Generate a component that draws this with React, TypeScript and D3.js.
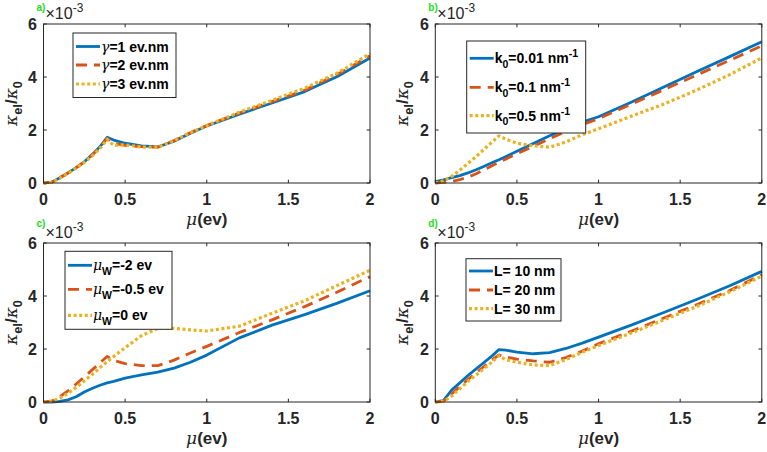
import { useEffect, useRef } from "react";
import * as d3 from "d3";

// chemical potential grid (ev), shared by every curve
const mu = [0, 0.05, 0.1, 0.15, 0.2, 0.25, 0.3, 0.35, 0.39, 0.43, 0.5, 0.6, 0.7, 0.8, 0.9, 1.0, 1.2, 1.4, 1.6, 1.8, 2.0];

// kappa_el / kappa_0, in units of 1e-3
const gamma1 = [0, 0.03, 0.2, 0.38, 0.58, 0.8, 1.08, 1.4, 1.72, 1.62, 1.5, 1.4, 1.36, 1.58, 1.88, 2.15, 2.6, 3.02, 3.45, 4.02, 4.72];
const gamma2 = [0, 0.03, 0.2, 0.38, 0.58, 0.8, 1.07, 1.38, 1.68, 1.5, 1.42, 1.37, 1.35, 1.6, 1.9, 2.17, 2.64, 3.07, 3.5, 4.1, 4.8];
const gamma3 = [0, 0.02, 0.18, 0.36, 0.56, 0.78, 1.03, 1.33, 1.65, 1.42, 1.44, 1.36, 1.35, 1.6, 1.9, 2.17, 2.67, 3.12, 3.58, 4.15, 4.88];

const k001 = [0.05, 0.12, 0.2, 0.28, 0.38, 0.5, 0.63, 0.77, 0.88, 0.99, 1.2, 1.49, 1.78, 2.05, 2.3, 2.5, 3.05, 3.62, 4.2, 4.76, 5.33];
const k01 = [0, 0.02, 0.06, 0.13, 0.22, 0.35, 0.5, 0.66, 0.78, 0.9, 1.1, 1.38, 1.67, 1.94, 2.2, 2.43, 2.97, 3.52, 4.07, 4.62, 5.18];
const k05 = [0, 0.08, 0.25, 0.48, 0.74, 1.0, 1.28, 1.56, 1.78, 1.66, 1.5, 1.4, 1.35, 1.55, 1.82, 2.05, 2.52, 2.98, 3.5, 4.08, 4.72];

const muWm2 = [0, 0, 0.02, 0.08, 0.2, 0.38, 0.52, 0.64, 0.72, 0.78, 0.9, 1.02, 1.13, 1.28, 1.5, 1.77, 2.42, 2.9, 3.3, 3.73, 4.2];
const muWm05 = [0, 0.03, 0.2, 0.42, 0.68, 0.95, 1.22, 1.5, 1.72, 1.57, 1.45, 1.37, 1.37, 1.58, 1.85, 2.1, 2.62, 3.1, 3.6, 4.15, 4.73];
const muW0 = [0, 0.03, 0.15, 0.33, 0.55, 0.8, 1.05, 1.32, 1.52, 1.72, 2.05, 2.5, 2.78, 2.78, 2.72, 2.68, 2.86, 3.35, 3.82, 4.4, 4.97];

const L10 = [0, 0.05, 0.45, 0.72, 1.0, 1.25, 1.5, 1.75, 1.98, 1.96, 1.88, 1.82, 1.86, 2.02, 2.22, 2.45, 2.9, 3.38, 3.87, 4.38, 4.93];
const L20 = [0, 0.03, 0.3, 0.58, 0.85, 1.1, 1.35, 1.6, 1.78, 1.7, 1.62, 1.55, 1.5, 1.68, 1.92, 2.2, 2.67, 3.17, 3.67, 4.2, 4.8];
const L30 = [0, 0.02, 0.22, 0.5, 0.78, 1.02, 1.27, 1.52, 1.75, 1.6, 1.5, 1.4, 1.37, 1.6, 1.88, 2.13, 2.6, 3.1, 3.6, 4.15, 4.75];

const xTicks = [0, 0.5, 1, 1.5, 2];
const yTicks = [0, 2, 4, 6];

const labelsA = ["\\gamma=1 ev.nm", "\\gamma=2 ev.nm", "\\gamma=3 ev.nm"];
const labelsB = ["k_0=0.01 nm^{-1}", "k_0=0.1 nm^{-1}", "k_0=0.5 nm^{-1}"];
const labelsC = ["\\mu_W=-2 ev", "\\mu_W=-0.5 ev", "\\mu_W=0 ev"];
const labelsD = ["L= 10 nm", "L= 20 nm", "L= 30 nm"];
const panelTags = ["a)", "b)", "c)", "d)"];

const colors = ["#0072BD", "#D95319", "#EDB120"];
const dashes = ["none", "11,7", "3,2.6"];
const widths = [2.8, 2.8, 3.2];
const FONT = "'Liberation Sans', Arial, sans-serif";
const greek: Record<string, string> = { gamma: "γ", mu: "μ", kappa: "κ" };

type Panel = {
  left: number;
  top: number;
  series: number[][];
  labels: string[];
  legend: { x: number; y: number; w: number; rows: number[] };
};

const W = 326.5;
const H = 159;

const panels: Panel[] = [
  { left: 43.5, top: 24, series: [gamma1, gamma2, gamma3], labels: labelsA, legend: { x: 73, y: 33, w: 103, rows: [46.5, 65, 84] } },
  { left: 435.3, top: 24, series: [k001, k01, k05], labels: labelsB, legend: { x: 466.7, y: 41, w: 119, rows: [58.3, 87.3, 115.7] } },
  { left: 43.5, top: 243, series: [muWm2, muWm05, muW0], labels: labelsC, legend: { x: 65, y: 251.3, w: 107, rows: [265.3, 289.3, 315.3] } },
  { left: 435.3, top: 243, series: [L10, L20, L30], labels: labelsD, legend: { x: 466, y: 258.7, w: 95, rows: [271, 290, 308.7] } },
];

// tiny TeX-ish markup: \greek, _x / _{..}, ^x / ^{..}
function rich(sel: d3.Selection<SVGTextElement, unknown, null, undefined>, s: string, size: number) {
  const parts: { txt: string; kind: string }[] = [];
  let i = 0;
  while (i < s.length) {
    const c = s[i];
    if (c === "\\") {
      let j = i + 1;
      while (j < s.length && /[a-z]/i.test(s[j])) j++;
      parts.push({ txt: greek[s.slice(i + 1, j)] ?? "", kind: "greek" });
      i = j;
    } else if (c === "_" || c === "^") {
      let txt: string;
      if (s[i + 1] === "{") {
        const k = s.indexOf("}", i + 1);
        txt = s.slice(i + 2, k);
        i = k + 1;
      } else {
        txt = s[i + 1];
        i += 2;
      }
      parts.push({ txt, kind: c === "_" ? "sub" : "sup" });
    } else {
      let j = i;
      while (j < s.length && !"\\_^".includes(s[j])) j++;
      parts.push({ txt: s.slice(i, j), kind: "n" });
      i = j;
    }
  }
  let shift = 0;
  for (const p of parts) {
    const target = p.kind === "sub" ? size * 0.3 : p.kind === "sup" ? -size * 0.42 : 0;
    const ts = sel.append("tspan").attr("dy", target - shift).text(p.txt);
    shift = target;
    if (p.kind === "sub" || p.kind === "sup") ts.attr("font-size", size * 0.75);
    if (p.kind === "greek")
      ts.attr("font-family", "'DejaVu Serif', serif").attr("font-style", "italic").attr("font-weight", "normal");
  }
}

export default function App() {
  const svgRef = useRef<SVGSVGElement>(null);

  useEffect(() => {
    if (!svgRef.current) return;
    const svg = d3.select(svgRef.current);
    svg.selectAll("*").remove();

    panels.forEach((p, pi) => {
      const x = d3.scaleLinear().domain([0, 2]).range([p.left, p.left + W]);
      const y = d3.scaleLinear().domain([0, 6]).range([p.top + H, p.top]);
      const g = svg.append("g");

      const line = d3
        .line<number>()
        .x((_, i) => x(mu[i]))
        .y((d) => y(d));

      p.series.forEach((s, si) => {
        g.append("path")
          .datum(s)
          .attr("fill", "none")
          .attr("stroke", colors[si])
          .attr("stroke-width", widths[si])
          .attr("stroke-dasharray", dashes[si])
          .attr("stroke-linejoin", "round")
          .attr("d", line);
      });

      // box + inward ticks
      g.append("rect")
        .attr("x", x(0))
        .attr("y", y(6))
        .attr("width", W)
        .attr("height", H)
        .attr("fill", "none")
        .attr("stroke", "#262626")
        .attr("stroke-width", 1);
      const tk = 3.3;
      xTicks.forEach((t) => {
        g.append("line").attr("x1", x(t)).attr("x2", x(t)).attr("y1", y(0)).attr("y2", y(0) - tk).attr("stroke", "#262626");
        g.append("line").attr("x1", x(t)).attr("x2", x(t)).attr("y1", y(6)).attr("y2", y(6) + tk).attr("stroke", "#262626");
        g.append("text")
          .attr("x", x(t))
          .attr("y", y(0) + 22)
          .attr("text-anchor", "middle")
          .attr("font-family", FONT)
          .attr("font-weight", "bold")
          .attr("font-size", 16)
          .attr("fill", "#262626")
          .text(String(t));
      });
      yTicks.forEach((t) => {
        g.append("line").attr("x1", x(0)).attr("x2", x(0) + tk).attr("y1", y(t)).attr("y2", y(t)).attr("stroke", "#262626");
        g.append("line").attr("x1", x(2)).attr("x2", x(2) - tk).attr("y1", y(t)).attr("y2", y(t)).attr("stroke", "#262626");
        g.append("text")
          .attr("x", x(0) - 6.5)
          .attr("y", y(t) + 6)
          .attr("text-anchor", "end")
          .attr("font-family", FONT)
          .attr("font-weight", "bold")
          .attr("font-size", 16)
          .attr("fill", "#262626")
          .text(String(t));
      });

      // exponent
      const ex = g
        .append("text")
        .attr("x", x(0) + 2)
        .attr("y", y(6) - 5)
        .attr("font-family", FONT)
        .attr("font-size", 16)
        .attr("fill", "#262626");
      rich(ex, "×10^{-3}", 16);

      // panel tag
      g.append("text")
        .attr("x", x(0) - 7)
        .attr("y", y(6) - (pi < 2 ? 13 : 16))
        .attr("font-family", FONT)
        .attr("font-weight", "bold")
        .attr("font-size", 10)
        .attr("fill", "#22dd22")
        .text(panelTags[pi]);

      // axis labels
      const xl = g
        .append("text")
        .attr("x", p.left + W / 2)
        .attr("y", y(0) + 42)
        .attr("text-anchor", "middle")
        .attr("font-family", FONT)
        .attr("font-weight", "bold")
        .attr("font-size", 17)
        .attr("fill", "#262626");
      rich(xl, "\\mu(ev)", 17);

      const yl = g
        .append("text")
        .attr("transform", `translate(${p.left - 27},${p.top + H / 2}) rotate(-90)`)
        .attr("text-anchor", "middle")
        .attr("font-family", FONT)
        .attr("font-weight", "bold")
        .attr("font-size", 17)
        .attr("fill", "#262626");
      rich(yl, "\\kappa_{el}/\\kappa_0", 17);

      // legend
      const lg = p.legend;
      const lh = (lg.rows[2] - lg.rows[0]) + 2 * (lg.rows[0] - lg.y);
      g.append("rect")
        .attr("x", lg.x)
        .attr("y", lg.y)
        .attr("width", lg.w)
        .attr("height", lh)
        .attr("fill", "white")
        .attr("stroke", "#262626")
        .attr("stroke-width", 1);
      p.labels.forEach((lab, li) => {
        const ry = lg.rows[li];
        g.append("line")
          .attr("x1", lg.x + 3)
          .attr("x2", lg.x + 27)
          .attr("y1", ry)
          .attr("y2", ry)
          .attr("stroke", colors[li])
          .attr("stroke-width", widths[li])
          .attr("stroke-dasharray", dashes[li]);
        const t = g
          .append("text")
          .attr("x", lg.x + 28)
          .attr("y", ry + 5)
          .attr("font-family", FONT)
          .attr("font-weight", "bold")
          .attr("font-size", 14)
          .attr("fill", "#000");
        rich(t, lab, 14);
      });
    });
  }, []);

  return (
    <svg
      ref={svgRef}
      width={767}
      height={452}
      style={{ position: "absolute", left: 0, top: 0, background: "white" }}
    />
  );
}
